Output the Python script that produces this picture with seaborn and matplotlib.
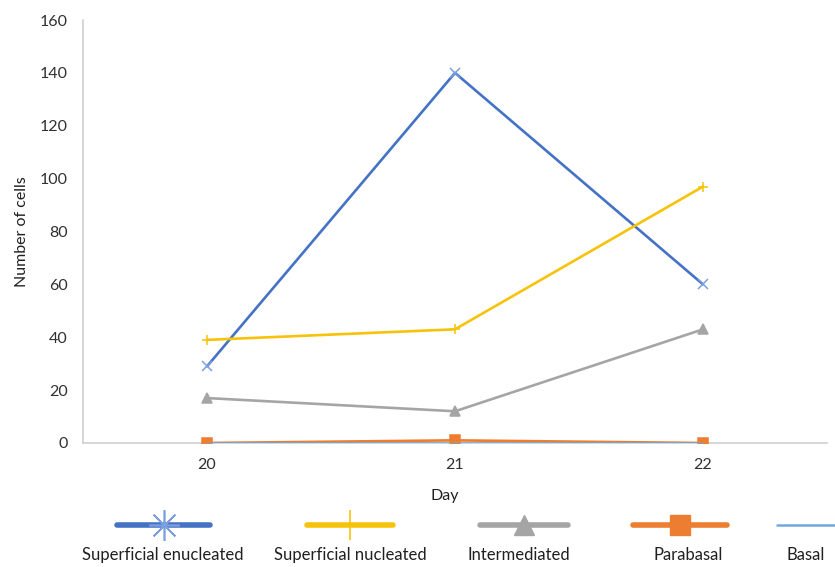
import pandas as pd
import seaborn as sns
import matplotlib.pyplot as plt
from matplotlib.lines import Line2D

days = [20, 21, 22]
series_names = ['Superficial enucleated', 'Superficial nucleated', 'Intermediated', 'Parabasal', 'Basal']
superficial_enucleated = [29, 140, 60]
superficial_nucleated = [39, 43, 97]
intermediated = [17, 12, 43]
parabasal = [0, 1, 0]
basal = [0, 0, 0]

colors = ['#4472C4', '#F7C30A', '#A5A5A5', '#ED7D31', '#6FA8DC']
marker_colors = ['#7C9FE0', '#F7C30A', '#A5A5A5', '#ED7D31', '#6FA8DC']
plot_markers = ['x', '+', '^', 's', None]
legend_markers = [(8, 2, 0), '+', '^', 's', None]
draw_order = [0, 1, 2, 4, 3]

rows = []
for name, vals in zip(series_names, [superficial_enucleated, superficial_nucleated, intermediated, parabasal, basal]):
    for d, v in zip(days, vals):
        rows.append({'Day': d, 'Number of cells': v, 'series': name})
df = pd.DataFrame(rows)

sns.set_style('white')
plt.rcParams['font.family'] = ['Lato', 'DejaVu Sans']

W, H = 835, 567
fig = plt.figure(figsize=(W / 100, H / 100), dpi=100)
ax = fig.add_axes([83 / W, 1 - 443 / H, (827 - 83) / W, (443 - 20) / H])

for i in draw_order:
    name = series_names[i]
    sub = df[df['series'] == name]
    sns.lineplot(data=sub, x='Day', y='Number of cells', ax=ax, color=colors[i],
                 marker=plot_markers[i], markersize=7, markeredgewidth=1.1,
                 markeredgecolor=marker_colors[i], linewidth=1.9, zorder=3 + i, legend=False)

ax.set_xlim(19.5, 22.5)
ax.set_ylim(0, 160)
ax.set_xticks(days)
ax.set_yticks(range(0, 161, 20))
ax.tick_params(axis='both', length=0, labelsize=11.5, colors='#303030')
ax.tick_params(axis='y', pad=11)
ax.tick_params(axis='x', pad=11)
for s in ['top', 'right']:
    ax.spines[s].set_visible(False)
for s in ['left', 'bottom']:
    ax.spines[s].set_color('#D0D0D0')
    ax.spines[s].set_linewidth(1.2)
ax.set_xlabel('')
ax.set_ylabel('Number of cells', fontsize=11.5, color='#202020', labelpad=8)
ax.grid(False)

fig.text(445 / W, 1 - 496 / H, 'Day', ha='center', va='center', fontsize=11.5, color='#202020')

# legend drawn below the axis, Excel style: handle on top, label underneath
handle_spans = [(117, 210), (307, 393), (480, 568), (633, 727), (777, 850)]
label_centers = [163, 350, 519, 688, 806]
for i, name in enumerate(series_names):
    x0, x1 = handle_spans[i]
    y = 1 - 525 / H
    fig.add_artist(Line2D([x0 / W, x1 / W], [y, y], color=colors[i], linewidth=4 if i < 4 else 1.8,
                          transform=fig.transFigure, solid_capstyle='round'))
    if legend_markers[i] is not None:
        fig.add_artist(Line2D([(x0 + x1) / 2 / W], [y], color=marker_colors[i], marker=legend_markers[i],
                              markersize=22 if i < 2 else 14, markeredgewidth=1.2 if i < 2 else 1,
                              linestyle='none', transform=fig.transFigure))
    fig.text(label_centers[i] / W, 1 - 555 / H, name, ha='center', va='center', fontsize=12,
             color='#202020')

fig.savefig('out.png', dpi=100)
